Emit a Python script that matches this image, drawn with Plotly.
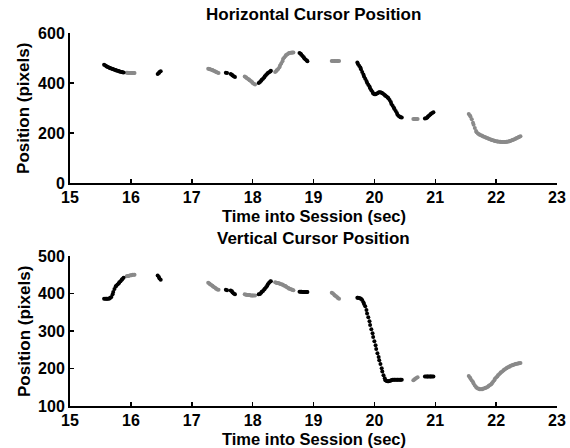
import plotly.graph_objects as go

# ---------------- data ----------------
# Each segment: sample times (sec), horizontal & vertical cursor position (pixels)
seg_time = [
    [15.56, 15.58, 15.60, 15.61, 15.63, 15.65, 15.66, 15.68, 15.70, 15.71,
     15.73, 15.75, 15.76, 15.78, 15.80, 15.81, 15.83, 15.85, 15.86, 15.88],
    [15.93, 15.95, 15.96, 15.98, 16.00, 16.01, 16.03, 16.05, 16.06],
    [16.44, 16.46, 16.47, 16.49],
    [17.27, 17.29, 17.30, 17.32, 17.34, 17.35, 17.37, 17.39, 17.40, 17.42, 17.44],
    [17.56, 17.58],
    [17.64, 17.66, 17.67, 17.69, 17.71],
    [17.87, 17.89, 17.90, 17.92, 17.94, 17.95, 17.97, 17.99, 18.00, 18.02, 18.04],
    [18.10, 18.12, 18.14, 18.15, 18.17, 18.19, 18.20, 18.22, 18.24, 18.25, 18.27, 18.29, 18.30],
    [18.37, 18.39, 18.40, 18.42, 18.44, 18.45, 18.47, 18.49, 18.50, 18.52,
     18.54, 18.55, 18.57, 18.59, 18.60, 18.62, 18.64, 18.65, 18.67],
    [18.77, 18.79, 18.80, 18.82, 18.84, 18.85, 18.87, 18.89, 18.90],
    [19.30, 19.32, 19.34, 19.35, 19.37, 19.39, 19.40, 19.42],
    [19.72, 19.73, 19.75, 19.77, 19.78, 19.80, 19.82, 19.83, 19.85, 19.87,
     19.88, 19.90, 19.92, 19.93, 19.95, 19.97, 19.98, 20.00, 20.02, 20.03,
     20.05, 20.07, 20.08, 20.10, 20.12, 20.13, 20.15, 20.17, 20.18, 20.20,
     20.22, 20.23, 20.25, 20.27, 20.28, 20.30, 20.32, 20.33, 20.35, 20.37,
     20.38, 20.40, 20.42, 20.43, 20.45],
    [20.64, 20.66, 20.67, 20.69, 20.71],
    [20.83, 20.85, 20.87, 20.88, 20.90, 20.92, 20.93, 20.95, 20.97],
    [21.55, 21.57, 21.58, 21.60, 21.62, 21.63, 21.65, 21.67, 21.68, 21.70,
     21.72, 21.73, 21.75, 21.77, 21.78, 21.80, 21.82, 21.83, 21.85, 21.87,
     21.88, 21.90, 21.92, 21.93, 21.95, 21.97, 21.98, 22.00, 22.02, 22.03,
     22.05, 22.07, 22.08, 22.10, 22.12, 22.13, 22.15, 22.17, 22.18, 22.20,
     22.22, 22.23, 22.25, 22.27, 22.28, 22.30, 22.32, 22.33, 22.35, 22.37,
     22.38, 22.40],
]

seg_horiz = [
    [473, 470, 467, 465, 463, 461, 459, 458, 456, 455,
     453, 452, 450, 449, 448, 446, 445, 444, 443, 442],
    [441, 441, 440, 440, 440, 440, 440, 440, 440],
    [436, 440, 444, 447],
    [457, 456, 455, 453, 452, 450, 448, 446, 444, 442, 440],
    [441, 440],
    [436, 433, 430, 427, 424],
    [426, 423, 420, 417, 414, 411, 408, 404, 400, 397, 394],
    [400, 404, 409, 413, 417, 422, 427, 432, 437, 440, 443, 446, 449],
    [444, 448, 452, 456, 463, 470, 478, 487, 496, 502,
     508, 512, 515, 518, 520, 521, 521, 522, 522],
    [520, 517, 513, 508, 503, 498, 494, 490, 487],
    [488, 488, 488, 488, 488, 488, 488, 488],
    [482, 476, 469, 462, 455, 444, 434, 426, 417, 408,
     401, 393, 386, 379, 371, 364, 358, 355, 355, 357,
     359, 362, 363, 363, 361, 359, 356, 352, 349, 346,
     342, 339, 332, 324, 316, 309, 301, 296, 288, 280,
     273, 268, 265, 263, 262],
    [256, 256, 256, 256, 256],
    [258, 259, 262, 266, 270, 274, 277, 280, 283],
    [276, 270, 265, 255, 241, 233, 220, 208, 203, 198,
     195, 193, 191, 189, 187, 185, 183, 182, 180, 178,
     177, 175, 173, 172, 171, 169, 168, 167, 166, 166,
     165, 165, 164, 164, 164, 164, 164, 165, 165, 166,
     167, 168, 170, 172, 173, 175, 177, 179, 181, 183,
     185, 187],
]

seg_vert = [
    [386, 386, 386, 386, 386, 387, 389, 391, 398, 404,
     412, 419, 421, 424, 427, 430, 433, 437, 439, 442],
    [446, 447, 447, 448, 449, 449, 450, 450, 450],
    [448, 444, 440, 437],
    [429, 427, 425, 423, 421, 419, 417, 415, 413, 411, 410],
    [410, 409],
    [408, 406, 403, 400, 398],
    [398, 397, 397, 396, 396, 396, 395, 395, 395, 395, 395],
    [398, 399, 402, 405, 407, 411, 413, 417, 421, 425, 429, 432, 433],
    [430, 429, 428, 428, 427, 426, 425, 424, 423, 421,
     420, 418, 416, 415, 413, 412, 411, 410, 409],
    [405, 405, 405, 404, 404, 404, 404, 404, 404],
    [402, 400, 397, 395, 393, 390, 388, 386],
    [389, 389, 388, 387, 386, 383, 377, 372, 366, 356,
     347, 337, 326, 316, 305, 294, 284, 273, 262, 252,
     241, 231, 222, 212, 201, 192, 182, 174, 169, 167,
     166, 166, 167, 168, 169, 170, 170, 170, 170, 170,
     170, 170, 170, 170, 170],
    [169, 171, 173, 175, 177],
    [179, 179, 179, 179, 179, 179, 179, 179, 179],
    [180, 176, 173, 168, 164, 160, 155, 151, 149, 147,
     146, 145, 145, 145, 146, 147, 148, 149, 150, 152,
     154, 156, 158, 161, 165, 169, 173, 176, 179, 182,
     185, 188, 190, 192, 195, 197, 199, 201, 202, 204,
     205, 207, 208, 209, 210, 211, 212, 213, 213, 214,
     214, 215],
]

# shade of each segment: dark = black dots, light = gray dots
seg_shade = ["dark", "light", "dark", "light", "dark", "dark", "light", "dark",
             "light", "dark", "light", "dark", "light", "dark", "light"]

titles = ["Horizontal Cursor Position", "Vertical Cursor Position"]
x_label = "Time into Session (sec)"
y_label = "Position (pixels)"

# ---------------- figure ----------------
colors = {"dark": "#000000", "light": "#8a8a8a"}
FONT = "Arial, Liberation Sans, Helvetica, sans-serif"

fig = go.Figure()

for series, yaxis in ((seg_horiz, "y"), (seg_vert, "y2")):
    for shade in ("light", "dark"):
        xs, ys = [], []
        for t, v, s in zip(seg_time, series, seg_shade):
            if s == shade:
                xs += t
                ys += v
        fig.add_trace(go.Scatter(
            x=xs, y=ys, mode="markers",
            xaxis="x" if yaxis == "y" else "x2", yaxis=yaxis,
            marker=dict(size=4, color=colors[shade], line=dict(width=0)),
            showlegend=False, hoverinfo="skip"))

axis_common = dict(
    showline=True, linecolor="black", linewidth=2, mirror=False,
    ticks="inside", ticklen=4, tickwidth=1.5, tickcolor="black",
    showgrid=False, zeroline=False, automargin=False,
    tickfont=dict(family=FONT, size=16, color="black", weight="bold"),
)

top_dom = [0.598, 1.0]
bot_dom = [0.0, 0.402]

fig.update_layout(
    template="none",
    width=570, height=448,
    margin=dict(l=70, r=13, t=33, b=42, autoexpand=False),
    paper_bgcolor="white", plot_bgcolor="white",
    xaxis=dict(domain=[0, 1], anchor="y", range=[15, 23], dtick=1, tick0=15,
               ticklabelstandoff=-1, **axis_common),
    yaxis=dict(domain=top_dom, anchor="x", range=[0, 600], dtick=200, **axis_common),
    xaxis2=dict(domain=[0, 1], anchor="y2", range=[15, 23], dtick=1, tick0=15,
                ticklabelstandoff=-1, **axis_common),
    yaxis2=dict(domain=bot_dom, anchor="x2", range=[100, 500], dtick=100, **axis_common),
)

txt = dict(family=FONT, size=17, color="black", weight="bold")
lbl = dict(family=FONT, size=16.5, color="black", weight="bold")
annots = [
    dict(text=titles[0], x=0.5, y=1.049, font=txt),
    dict(text=x_label, x=0.5, y=0.5094, font=lbl),
    dict(text=titles[1], x=0.5, y=0.4504, font=txt),
    dict(text=x_label, x=0.5, y=-0.0875, font=lbl),
    dict(text=y_label, x=-0.0945, y=0.799, textangle=-90, font=txt),
    dict(text=y_label, x=-0.0945, y=0.201, textangle=-90, font=txt),
]
for a in annots:
    fig.add_annotation(xref="paper", yref="paper", showarrow=False,
                       xanchor="center", yanchor="middle", **a)

# remove the default 8px page margin so the figure fills the window exactly
fig.write_html("out.html",
               config={"displayModeBar": False, "staticPlot": True},
               post_script="document.body.style.margin='0';document.body.style.overflow='hidden';")
